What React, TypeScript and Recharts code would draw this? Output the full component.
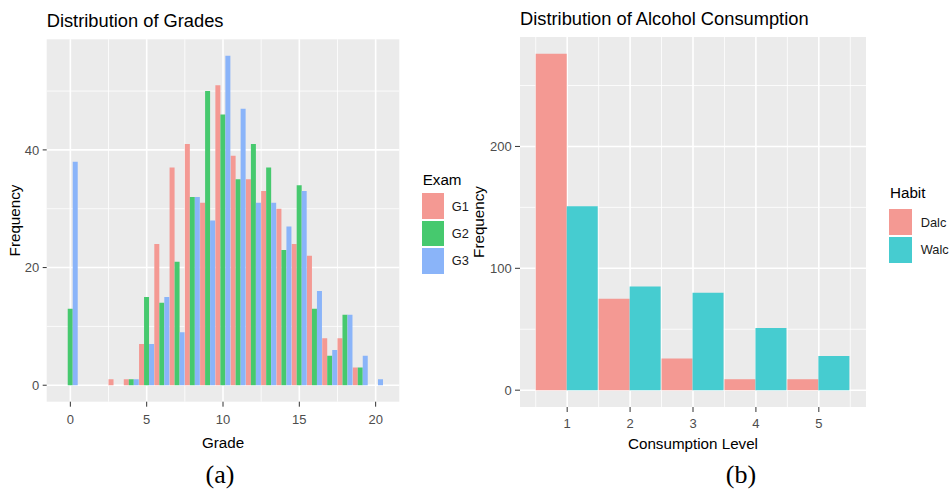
import { Bar, BarChart, CartesianGrid, Legend, XAxis, YAxis } from "recharts";

const FONT = '"Liberation Sans", Arial, Helvetica, sans-serif';
const SERIF = '"Liberation Serif", "Times New Roman", Times, serif';

// grades histogram (binwidth 1, centred on integers)
const GRADES = [0, 1, 2, 3, 4, 5, 6, 7, 8, 9, 10, 11, 12, 13, 14, 15, 16, 17, 18, 19, 20];
const G1_COUNTS = [0, 0, 0, 1, 1, 7, 24, 37, 41, 31, 51, 39, 35, 33, 30, 24, 22, 8, 8, 3, 0];
const G2_COUNTS = [13, 0, 0, 0, 1, 15, 14, 21, 32, 50, 46, 35, 41, 37, 23, 34, 13, 5, 12, 3, 0];
const G3_COUNTS = [38, 0, 0, 0, 1, 7, 15, 9, 32, 28, 56, 47, 31, 31, 27, 33, 16, 6, 12, 5, 1];
const GRADE_TICKS = [0, 5, 10, 15, 20];
const GRADE_MINOR = [2.5, 7.5, 12.5, 17.5];
const GRADE_FREQ_TICKS = [0, 20, 40];
const GRADE_FREQ_MINOR = [10, 30, 50];

// alcohol consumption
const LEVELS = [1, 2, 3, 4, 5];
const DALC = [276, 75, 26, 9, 9];
const WALC = [151, 85, 80, 51, 28];
const LEVEL_MINOR = [0.5, 1.5, 2.5, 3.5, 4.5, 5.5];
const ALC_TICKS = [0, 100, 200];
const ALC_MINOR = [50, 150, 250];

// ggplot default hues, alpha 0.7 over the grey panel
const COL_G1 = "#F49993";
const COL_G2 = "#46C96E";
const COL_G3 = "#8AB4F9";
const COL_DALC = "#F49993";
const COL_WALC = "#46CCD0";

const PANEL = "#EBEBEB";

// ggplot style 5% expansion
const expand = (lo: number, hi: number): [number, number] => {
	const d = (hi - lo) * 0.05;
	return [lo - d, hi + d];
};

const gradeRows = GRADES.map((grade, i) => ({
	grade,
	G1: G1_COUNTS[i],
	G2: G2_COUNTS[i],
	G3: G3_COUNTS[i],
}));

const alcRows = LEVELS.map((level, i) => ({
	level,
	Dalc: DALC[i],
	Walc: WALC[i],
}));

type LegendEntry = { value?: string; color?: string };

type LegendBox = {
	title: string;
	titleDx: number;
	keysTop: number;
	keyW: number;
	keyH: number;
	keyGap: number;
	labelGap: number;
};

function makeLegend(box: LegendBox) {
	return function GgLegend(props: { payload?: LegendEntry[] }) {
		const items = props.payload ?? [];
		return (
			<div style={{ fontFamily: FONT, textAlign: "left" }}>
				<div
					style={{
						fontSize: 15.2,
						lineHeight: "15.2px",
						color: "#000",
						marginLeft: box.titleDx,
						whiteSpace: "nowrap",
					}}
				>
					{box.title}
				</div>
				<div style={{ marginTop: box.keysTop }}>
					{items.map((item) => (
						<div
							key={item.value}
							style={{
								display: "flex",
								alignItems: "center",
								height: box.keyH,
								marginBottom: box.keyGap,
							}}
						>
							<div
								style={{
									width: box.keyW,
									height: box.keyH,
									background: item.color,
								}}
							/>
							<span
								style={{
									marginLeft: box.labelGap,
									fontSize: 12.8,
									color: "#1A1A1A",
									whiteSpace: "nowrap",
								}}
							>
								{item.value}
							</span>
						</div>
					))}
				</div>
			</div>
		);
	};
}

const tickStyle = { fill: "#4D4D4D", fontSize: 13, fontFamily: FONT };
const axisTitleStyle = { fill: "#000", fontSize: 15.2, fontFamily: FONT };

function GradesChart() {
	const width = 470;
	const height = 491;
	const margin = { top: 39.3, right: 70.7, bottom: 39.3, left: 0 };
	const yAxisW = 46.7;
	const xAxisH = 50;
	const plotW = width - margin.left - margin.right - yAxisW;
	const xDomain = expand(-0.5, 20.5);
	const pad = (plotW * (-0.5 - xDomain[0])) / (xDomain[1] - xDomain[0]);
	const maxCount = Math.max(...G1_COUNTS, ...G2_COUNTS, ...G3_COUNTS);
	const yDomain = expand(0, maxCount);

	return (
		<BarChart
			width={width}
			height={height}
			data={gradeRows}
			margin={margin}
			barCategoryGap={0}
			barGap={0}
		>
			<CartesianGrid
				xAxisId="num"
				fill={PANEL}
				stroke="#FFFFFF"
				strokeWidth={0.8}
				verticalValues={GRADE_MINOR}
				horizontalValues={GRADE_FREQ_MINOR}
			/>
			<CartesianGrid
				xAxisId="num"
				stroke="#FFFFFF"
				strokeWidth={1.6}
				verticalValues={GRADE_TICKS}
				horizontalValues={GRADE_FREQ_TICKS}
			/>
			<XAxis
				xAxisId="num"
				dataKey="grade"
				type="number"
				domain={xDomain}
				allowDataOverflow
				ticks={GRADE_TICKS}
				interval={0}
				height={xAxisH}
				axisLine={false}
				tickLine={{ stroke: "#333333" }}
				tickSize={5}
				tickMargin={8}
				tick={tickStyle}
				label={{
					value: "Grade",
					position: "insideBottom",
					offset: 4,
					style: axisTitleStyle,
				}}
			/>
			<XAxis
				xAxisId="cat"
				dataKey="grade"
				type="category"
				hide
				height={0}
				padding={{ left: pad, right: pad }}
			/>
			<YAxis
				width={yAxisW}
				domain={yDomain}
				allowDataOverflow
				ticks={GRADE_FREQ_TICKS}
				interval={0}
				axisLine={false}
				tickLine={{ stroke: "#333333" }}
				tickSize={4}
				tickMargin={3.4}
				tick={tickStyle}
				label={{
					value: "Frequency",
					angle: -90,
					position: "insideLeft",
					offset: 15,
					style: { ...axisTitleStyle, textAnchor: "middle" },
				}}
			/>
			<Legend
				layout="vertical"
				align="center"
				verticalAlign="middle"
				wrapperStyle={{ left: 421.7, top: 172.1, width: 60 }}
				content={makeLegend({
					title: "Exam",
					titleDx: 1,
					keysTop: 6,
					keyW: 22.6,
					keyH: 25.7,
					keyGap: 1.6,
					labelGap: 7.4,
				})}
			/>
			<Bar xAxisId="cat" dataKey="G1" name="G1" fill={COL_G1} isAnimationActive={false} />
			<Bar xAxisId="cat" dataKey="G2" name="G2" fill={COL_G2} isAnimationActive={false} />
			<Bar xAxisId="cat" dataKey="G3" name="G3" fill={COL_G3} isAnimationActive={false} />
		</BarChart>
	);
}

function AlcoholChart() {
	const width = 486;
	const height = 491;
	const margin = { top: 37, right: 86, bottom: 34, left: 0 };
	const yAxisW = 54;
	const xAxisH = 50;
	const plotW = width - margin.left - margin.right - yAxisW;
	const xDomain = expand(0.5, 5.5);
	const pad = (plotW * (0.5 - xDomain[0])) / (xDomain[1] - xDomain[0]);
	const yDomain = expand(0, Math.max(...DALC, ...WALC));

	return (
		<BarChart
			width={width}
			height={height}
			data={alcRows}
			margin={margin}
			barCategoryGap={0}
			barGap={0}
		>
			<CartesianGrid
				xAxisId="num"
				fill={PANEL}
				stroke="#FFFFFF"
				strokeWidth={0.8}
				verticalValues={LEVEL_MINOR}
				horizontalValues={ALC_MINOR}
			/>
			<CartesianGrid
				xAxisId="num"
				stroke="#FFFFFF"
				strokeWidth={1.6}
				verticalValues={LEVELS}
				horizontalValues={ALC_TICKS}
			/>
			<XAxis
				xAxisId="num"
				dataKey="level"
				type="number"
				domain={xDomain}
				allowDataOverflow
				ticks={LEVELS}
				interval={0}
				height={xAxisH}
				axisLine={false}
				tickLine={{ stroke: "#333333" }}
				tickSize={5}
				tickMargin={7}
				tick={tickStyle}
				label={{
					value: "Consumption Level",
					position: "insideBottom",
					offset: 7.7,
					style: axisTitleStyle,
				}}
			/>
			<XAxis
				xAxisId="cat"
				dataKey="level"
				type="category"
				hide
				height={0}
				padding={{ left: pad, right: pad }}
			/>
			<YAxis
				width={yAxisW}
				domain={yDomain}
				allowDataOverflow
				ticks={ALC_TICKS}
				interval={0}
				axisLine={false}
				tickLine={{ stroke: "#333333" }}
				tickSize={5}
				tickMargin={3.3}
				tick={tickStyle}
				label={{
					value: "Frequency",
					angle: -90,
					position: "insideLeft",
					offset: 13,
					style: { ...axisTitleStyle, textAnchor: "middle" },
				}}
			/>
			<Legend
				layout="vertical"
				align="center"
				verticalAlign="middle"
				wrapperStyle={{ left: 423, top: 184.6, width: 62 }}
				content={makeLegend({
					title: "Habit",
					titleDx: 1,
					keysTop: 9.5,
					keyW: 23.3,
					keyH: 25.7,
					keyGap: 2,
					labelGap: 8.4,
				})}
			/>
			<Bar xAxisId="cat" dataKey="Dalc" name="Dalc" fill={COL_DALC} isAnimationActive={false} />
			<Bar xAxisId="cat" dataKey="Walc" name="Walc" fill={COL_WALC} isAnimationActive={false} />
		</BarChart>
	);
}

export default function App() {
	return (
		<div
			style={{
				position: "absolute",
				left: 0,
				top: 0,
				width: 952,
				height: 491,
				background: "#FFFFFF",
				overflow: "hidden",
			}}
		>
			<div style={{ position: "absolute", left: 0, top: 0 }}>
				<GradesChart />
			</div>
			<div style={{ position: "absolute", left: 466, top: 0 }}>
				<AlcoholChart />
			</div>
			<svg
				width={952}
				height={491}
				style={{ position: "absolute", left: 0, top: 0, pointerEvents: "none" }}
			>
				<text x={46.7} y={26.7} fontFamily={FONT} fontSize={18.3} fill="#000">
					Distribution of Grades
				</text>
				<text x={520} y={25} fontFamily={FONT} fontSize={18.3} fill="#000">
					Distribution of Alcohol Consumption
				</text>
				<text x={220} y={483} fontFamily={SERIF} fontSize={26} fill="#000" textAnchor="middle">
					(a)
				</text>
				<text x={741} y={483} fontFamily={SERIF} fontSize={26} fill="#000" textAnchor="middle">
					(b)
				</text>
			</svg>
		</div>
	);
}
